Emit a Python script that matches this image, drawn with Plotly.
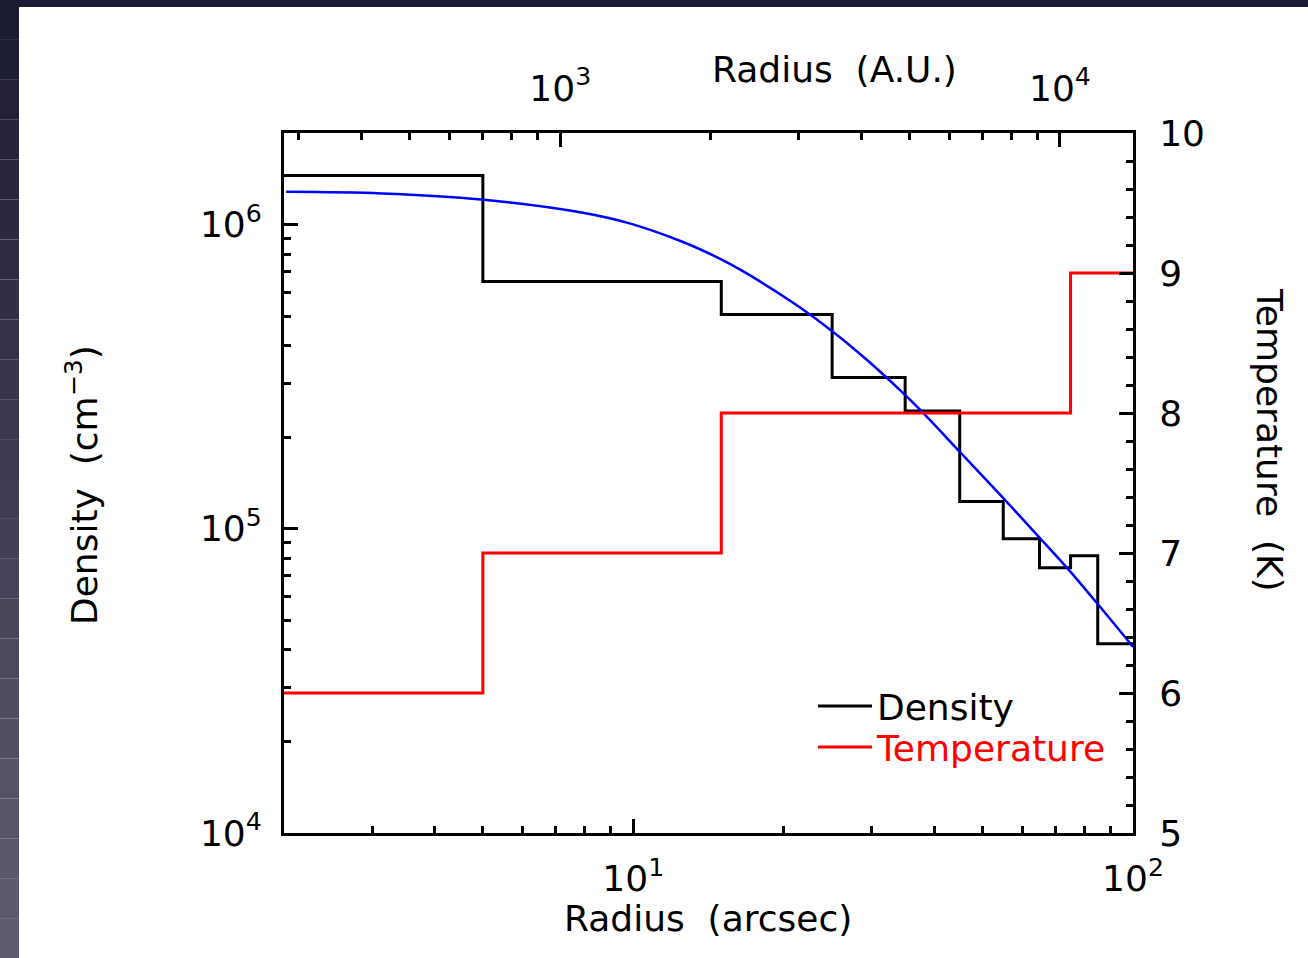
import math
import plotly.graph_objects as go

# ---------------- data ----------------
DIST_PC = 140  # arcsec -> A.U. conversion for the top axis

# Density step profile (black): bin edges in arcsec and density per bin (cm^-3)
density_edges = [2, 5, 15, 25, 35, 45, 55, 65, 75, 85, 100]
density_vals = [1.45e6, 6.5e5, 5.06e5, 3.14e5, 2.44e5, 1.23e5, 9.27e4, 7.45e4, 8.15e4, 4.19e4]

# Temperature step profile (red): bin edges in arcsec and temperature (K)
temp_edges = [2, 5, 15, 75, 100]
temp_vals = [6, 7, 8, 9]

# Smooth density model (blue)
fit_r = [2.02, 3.14, 4.97, 7.88, 9.91, 12.5, 13.7, 15.7, 17.2, 21.6, 25.2, 29.4,
         34.3, 37.6, 45.2, 54.3, 65.2, 73.8, 85.9, 100]
fit_n = [1.281e6, 1.265e6, 1.208e6, 1.095e6, 1.005e6, 8.80e5, 8.25e5, 7.39e5, 6.78e5,
         5.33e5, 4.42e5, 3.58e5, 2.84e5, 2.45e5, 1.778e5, 1.29e5, 9.3e4, 7.44e4,
         5.54e4, 4.09e4]

# axis ticks
x_major = [10, 100]
x_major_text = ["10<sup>1</sup>", "10<sup>2</sup>"]
au_major = [1e3, 1e4]
au_major_text = ["10<sup>3</sup>", "10<sup>4</sup>"]
y_major = [1e4, 1e5, 1e6]
y_major_text = ["10<sup>4</sup>", "10<sup>5</sup>", "10<sup>6</sup>"]

# ---------------- figure ----------------
FONT = "DejaVu Sans"
FS = 36

# pixel geometry of the plot area
L, R, T, B = 284, 1133, 133, 833
W, H = 1308, 958
PW, PH = R - L, B - T


def px_x(p):
    return (p - L) / PW


def px_y(p):
    return (B - p) / PH


fig = go.Figure()

fig.add_trace(go.Scatter(
    x=density_edges, y=density_vals + [density_vals[-1]],
    mode="lines", line=dict(color="black", width=3, shape="hv"),
    name="Density", xaxis="x", yaxis="y", showlegend=True, legend="legend",
))

fig.add_trace(go.Scatter(
    x=[r * DIST_PC for r in temp_edges], y=temp_vals + [temp_vals[-1]],
    mode="lines", line=dict(color="red", width=3, shape="hv"),
    name='<span style="color:red">Temperature</span>', xaxis="x2", yaxis="y2",
    showlegend=True, legend="legend2",
))

fig.add_trace(go.Scatter(
    x=fit_r, y=fit_n, mode="lines",
    line=dict(color="blue", width=2.5, shape="spline", smoothing=1.0),
    showlegend=False, xaxis="x", yaxis="y3",
))

tickfont = dict(family=FONT, size=FS, color="black")
axis_common = dict(showgrid=False, zeroline=False, showline=True, linecolor="black",
                   linewidth=3, ticks="inside", ticklen=14, tickwidth=3, tickcolor="black",
                   tickfont=tickfont)

x_minor = [m * d for d in (1, 10) for m in range(2, 10) if 2 < m * d < 100]
au_minor = [m * d for d in (100, 1000) for m in range(2, 10) if 280 < m * d < 14000]
y_minor = [m * d for d in (1e4, 1e5, 1e6) for m in range(2, 10) if m * d < 2e6]
t_minor = [5 + 0.2 * i for i in range(26) if i % 5 != 0]

yr = [4, math.log10(2e6)]

legend_common = dict(xanchor="left", yanchor="top", bgcolor="rgba(0,0,0,0)",
                     borderwidth=0, itemwidth=54,
                     font=dict(family=FONT, size=FS, color="black"))

fig.update_layout(
    width=W, height=H, autosize=False,
    margin=dict(l=L, r=W - R, t=T, b=H - B, pad=0),
    paper_bgcolor="white", plot_bgcolor="rgba(0,0,0,0)",
    font=dict(family=FONT, size=FS, color="black"),
    xaxis=dict(type="log", range=[math.log10(2), 2], tickmode="array",
               tickvals=x_major, ticktext=x_major_text, ticklabelstandoff=12,
               minor=dict(tickvals=x_minor, ticks="inside", ticklen=7, tickwidth=3,
                          tickcolor="black", showgrid=False),
               anchor="y", **axis_common),
    xaxis2=dict(type="log", range=[math.log10(2 * DIST_PC), math.log10(100 * DIST_PC)],
                overlaying="x", side="top", anchor="y2", tickmode="array",
                tickvals=au_major, ticktext=au_major_text, ticklabelstandoff=15,
                minor=dict(tickvals=au_minor, ticks="inside", ticklen=7, tickwidth=3,
                           tickcolor="black", showgrid=False),
                **axis_common),
    yaxis=dict(type="log", range=yr, tickmode="array", tickvals=y_major,
               ticktext=y_major_text, ticklabelstandoff=12,
               minor=dict(tickvals=y_minor, ticks="inside", ticklen=7, tickwidth=3,
                          tickcolor="black", showgrid=False),
               anchor="x", **axis_common),
    yaxis2=dict(range=[5, 10], overlaying="y", side="right", anchor="x2",
                tickmode="linear", tick0=5, dtick=1, ticklabelstandoff=16,
                minor=dict(tickvals=t_minor, ticks="inside", ticklen=7, tickwidth=3,
                           tickcolor="black", showgrid=False),
                **axis_common),
    yaxis3=dict(type="log", range=yr, overlaying="y", anchor="x", visible=False),
    legend=dict(x=px_x(813), y=px_y(676), **legend_common),
    legend2=dict(x=px_x(813), y=px_y(717), **legend_common),
    showlegend=True,
)

annotations = [
    dict(text="Radius\u00a0 (arcsec)", x=px_x(708), y=px_y(918), xref="paper", yref="paper",
         showarrow=False, xanchor="center", yanchor="middle",
         font=dict(family=FONT, size=FS, color="black")),
    dict(text="Radius\u00a0 (A.U.)", x=px_x(834), y=px_y(70), xref="paper", yref="paper",
         showarrow=False, xanchor="center", yanchor="middle",
         font=dict(family=FONT, size=FS, color="black")),
    dict(text="Density\u00a0 (cm<sup>\u22123</sup>)", x=px_x(82), y=px_y(485), xref="paper",
         yref="paper", showarrow=False, xanchor="center", yanchor="middle", textangle=-90,
         font=dict(family=FONT, size=FS, color="black")),
    dict(text="Temperature\u00a0 (K)", x=px_x(1270), y=px_y(440), xref="paper",
         yref="paper", showarrow=False, xanchor="center", yanchor="middle", textangle=90,
         font=dict(family=FONT, size=FS, color="black")),
]
fig.update_layout(annotations=annotations)

# slide-like dark frame (top band and left gradient band)
shapes = [dict(type="rect", xref="paper", yref="paper", x0=px_x(0), x1=px_x(W),
               y0=px_y(7), y1=px_y(0), fillcolor="#1c1b34", line=dict(width=0),
               layer="below")]
n_seg = 24
c0, c1 = (28, 27, 52), (94, 93, 112)
for i in range(n_seg):
    f = i / (n_seg - 1)
    col = tuple(round(a + (b - a) * f) for a, b in zip(c0, c1))
    shapes.append(dict(type="rect", xref="paper", yref="paper", x0=px_x(0), x1=px_x(19),
                       y0=px_y(H * (i + 1) / n_seg), y1=px_y(H * i / n_seg),
                       fillcolor="rgb(%d,%d,%d)" % col, line=dict(width=0), layer="below"))
fig.update_layout(shapes=shapes)

fig.write_html(
    "out.html",
    config={"displayModeBar": False},
    post_script="document.body.style.margin='0';document.body.style.padding='0';",
)
